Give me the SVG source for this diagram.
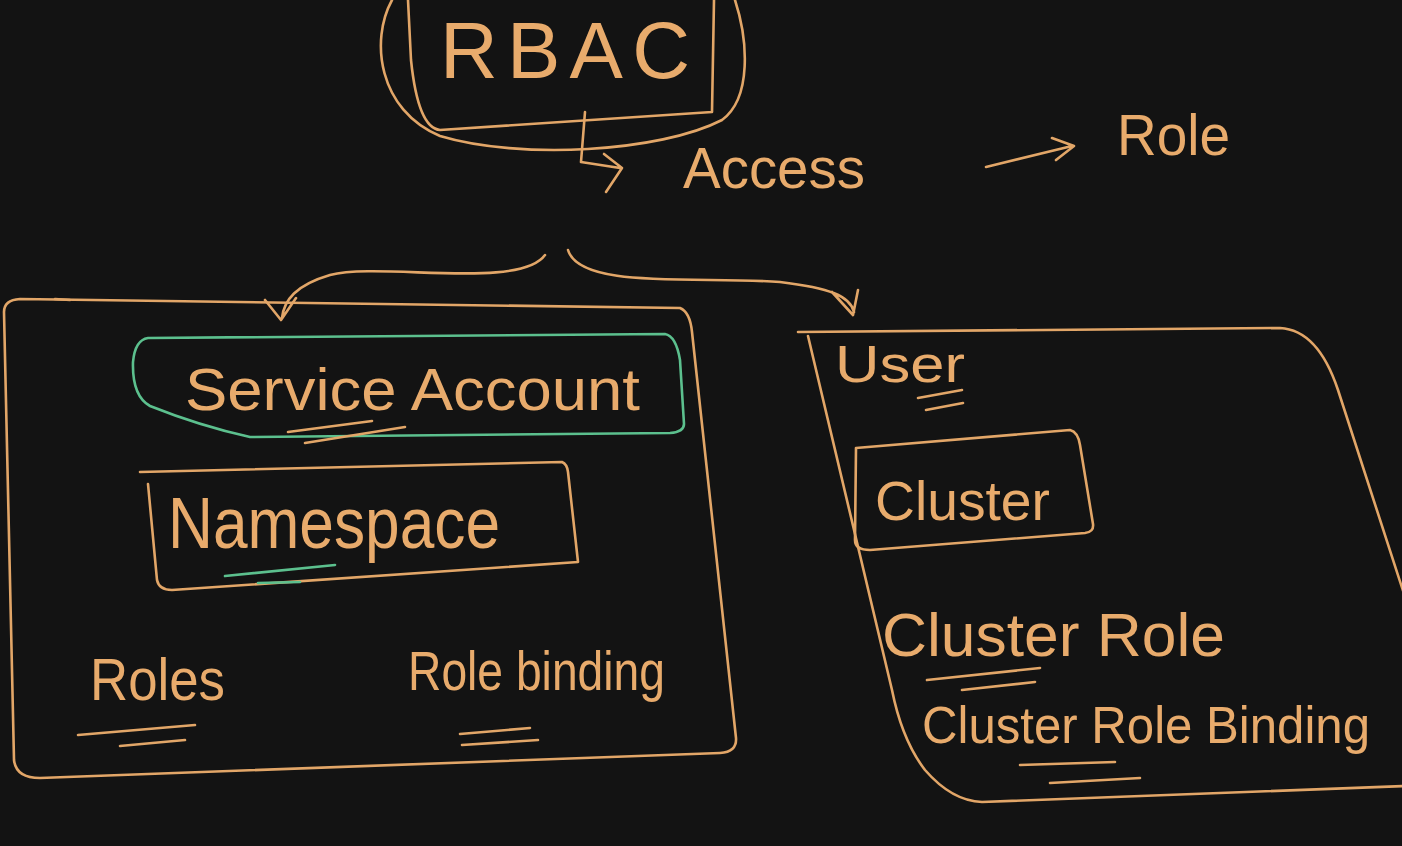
<svg xmlns="http://www.w3.org/2000/svg" width="1402" height="846" viewBox="0 0 1402 846">
<style>
.ln{fill:none;stroke:#e2a668;stroke-width:2.6;stroke-linecap:round;stroke-linejoin:round}
.gr{fill:none;stroke:#5cc08e;stroke-width:2.6;stroke-linecap:round;stroke-linejoin:round}
.tx{fill:#e8ab6c;font-family:"Liberation Sans","DejaVu Sans",sans-serif;font-weight:normal}
</style>
<rect width="1402" height="846" fill="#131313"/>
<g id="rbac">
<path class="ln" d="M408,0 L411,60 Q418,128 440,130 L712,112 L714,0"/>
<path class="ln" d="M392,0 C370,40 378,110 440,136 C520,160 660,152 722,120 C752,98 748,40 735,0"/>
<text class="tx" x="440" y="78" font-size="80" textLength="250" lengthAdjust="spacing">RBAC</text>
</g>
<g id="access">
<text class="tx" x="683" y="188" font-size="58" textLength="182" lengthAdjust="spacingAndGlyphs">Access</text>
</g>
<g id="role">
<text class="tx" x="1117" y="155" font-size="58" textLength="113" lengthAdjust="spacingAndGlyphs">Role</text>
</g>
<g id="namespace-scope">
<path class="ln" d="M20,299 L680,308 Q690,312 692,332 L736,738 Q737,752 720,753 L40,778 Q16,778 14,760 L4,312 Q4,300 20,299 Z"/>
<path class="ln" d="M55,299 L70,300" stroke-width="4"/>
<path class="gr" d="M148,338 L665,334 Q676,336 680,360 L684,424 Q684,432 670,433 L250,437 Q200,426 150,406 Q132,396 133,362 Q135,340 148,338 Z"/>
<text class="tx" x="185" y="410" font-size="60" textLength="455" lengthAdjust="spacingAndGlyphs">Service Account</text>
<path class="ln" d="M288,432 L372,421 M305,443 L405,427"/>
<path class="ln" d="M140,472 L562,462 Q567,464 568,472 L578,562 L172,590 Q159,590 157,580 L148,484"/>
<text class="tx" x="168" y="548" font-size="72" textLength="332" lengthAdjust="spacingAndGlyphs">Namespace</text>
<path class="gr" d="M225,576 L335,565 M258,583 L300,582"/>
<text class="tx" x="90" y="700" font-size="60" textLength="135" lengthAdjust="spacingAndGlyphs">Roles</text>
<path class="ln" d="M78,735 L195,725 M120,746 L185,740"/>
<text class="tx" x="408" y="690" font-size="56" textLength="257" lengthAdjust="spacingAndGlyphs">Role binding</text>
<path class="ln" d="M460,734 L530,728 M462,745 L538,740"/>
</g>
<g id="cluster-scope">
<path class="ln" d="M798,332 L1280,328 Q1318,330 1338,390 L1406,600 L1406,786 L982,802 Q952,801 925,770 Q902,740 892,690 L808,336"/>
<text class="tx" x="835" y="382" font-size="52" textLength="130" lengthAdjust="spacingAndGlyphs">User</text>
<path class="ln" d="M918,398 L962,390 M926,410 L963,403"/>
<path class="ln" d="M856,448 L1070,430 Q1078,432 1080,445 L1093,524 Q1094,532 1085,533 L870,550 Q855,550 855,540 Z"/>
<text class="tx" x="875" y="520" font-size="56" textLength="175" lengthAdjust="spacingAndGlyphs">Cluster</text>
<text class="tx" x="882" y="656" font-size="62" textLength="343" lengthAdjust="spacingAndGlyphs">Cluster Role</text>
<path class="ln" d="M927,680 L1040,668 M962,690 L1035,682"/>
<text class="tx" x="922" y="743" font-size="52" textLength="448" lengthAdjust="spacingAndGlyphs">Cluster Role Binding</text>
<path class="ln" d="M1020,765 L1115,762 M1050,783 L1140,778"/>
</g>
<g id="connectors">
<path class="ln" d="M585,112 L581,162 L620,168 M604,154 L622,168 L606,192"/>
<path class="ln" d="M986,167 L1072,146 M1052,138 L1074,146 L1056,160"/>
<path class="ln" d="M545,255 C520,290 380,262 330,275 C296,285 284,300 282,318 M265,300 L281,320 L296,298"/>
<path class="ln" d="M568,250 C580,290 700,276 780,282 C830,288 850,296 854,312 M832,292 L853,315 L858,290"/>
</g>
</svg>
